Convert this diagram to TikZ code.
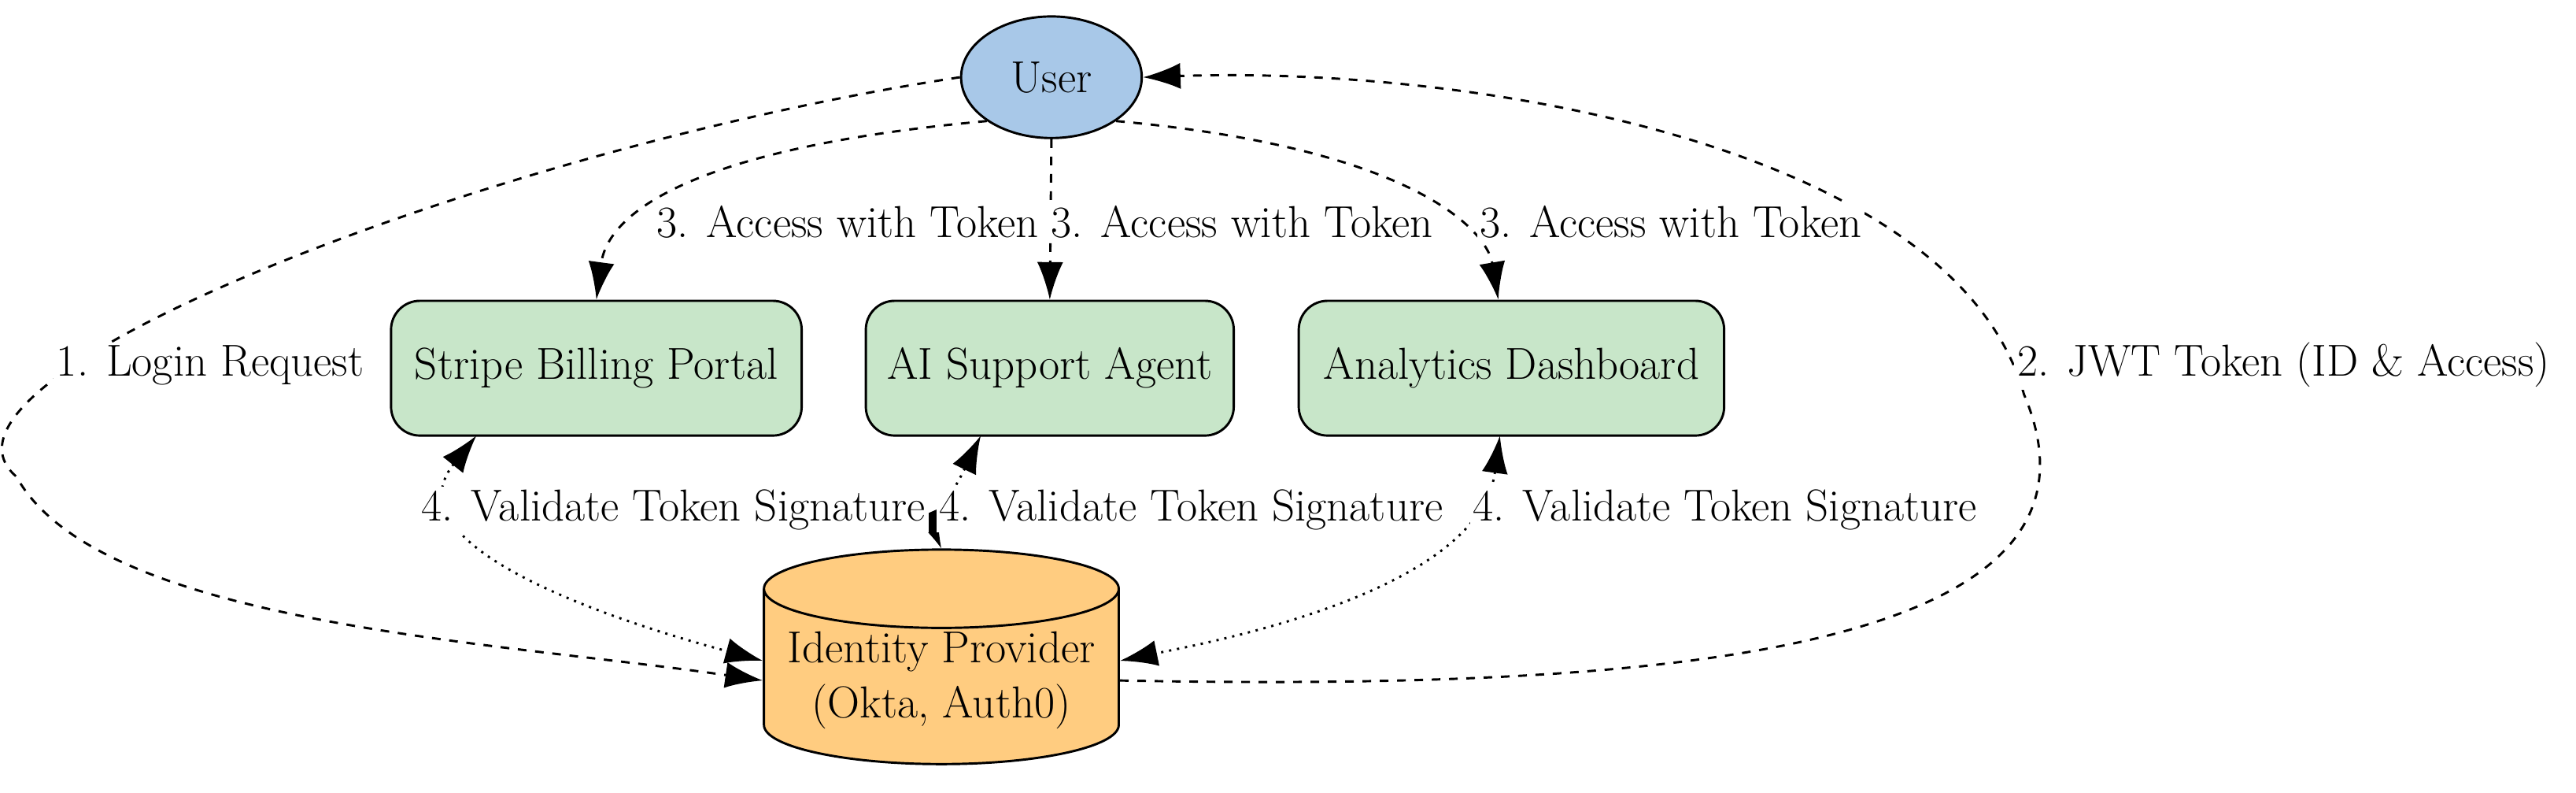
\documentclass[tikz,border=0pt]{standalone}
\usetikzlibrary{arrows.meta,shapes.geometric}

\tikzset{
  box/.style={draw, thick, rounded corners=10pt, fill=green!20!white, minimum width=#1, minimum height=1.64cm},
  login/.style={draw, thick, dashed, -{Latex[length=13pt,width=9pt]}},
  check/.style={draw, thick, dotted, {Latex[length=13pt,width=9pt]}-{Latex[length=13pt,width=9pt]}},
  lbl/.style={fill=white, inner sep=1pt}
}
\definecolor{userblue}{HTML}{A8C8E8}
\definecolor{boxgreen}{HTML}{C8E6C9}
\definecolor{idporange}{HTML}{FFCC80}

\begin{document}
\begin{tikzpicture}[x=0.02cm, y=-0.02cm, font=\fontsize{15.5}{19}\selectfont]
        \useasboundingbox (0,0) rectangle (1568,482);
        % nodes
        \node[draw, thick, ellipse, fill=userblue, minimum width=2.2cm, minimum height=1.48cm] (user) at (640,47) {User};
        \node[box=5cm, fill=boxgreen] (stripe) at (363,224) {Stripe Billing Portal};
        \node[box=4.48cm, fill=boxgreen] (agent) at (639,224) {AI Support Agent};
        \node[box=5.18cm, fill=boxgreen] (dash) at (920,224) {Analytics Dashboard};
        \node[draw, thick, cylinder, shape border rotate=90, aspect=0.25, fill=idporange,
              minimum width=4.32cm, minimum height=1.6cm, inner sep=1pt, align=center] (idp) at (573,414)
              {Identity Provider\\(Okta, Auth0)};
        % login and token
        \path[login] (user.west) .. controls (300,90) and (-60,230) .. (10,290)
              .. controls (60,380) and (300,390) .. (idp.west);
        \node[lbl] (l1) at (128,222) {1. Login Request};
        \path[login] (idp.east) .. controls (1000,420) and (1300,400) .. (1232,240)
              .. controls (1190,90) and (900,40) .. (user.east);
        \node[lbl] (l2) at (1390,222) {2. JWT Token (ID \& Access)};
        % access
        \path[login] (user.south west) .. controls (420,90) and (370,130) .. (stripe.north);
        \path[login] (user.south) -- (agent.north);
        \path[login] (user.south east) .. controls (860,90) and (905,140) .. (dash.north -| 912,0);
        \node[lbl] (a1) at (516,135) {3. Access with Token};
        \node[lbl] (a2) at (756,135) {3. Access with Token};
        \node[lbl] (a3) at (1017,135) {3. Access with Token};
        % validation
        \path[check] (290,265) .. controls (230,340) and (420,390) .. (idp.west |- 0,402);
        \path[check] (597,265) .. controls (580,300) and (567,320) .. (idp.north);
        \path[check] (913,265) .. controls (900,360) and (740,390) .. (idp.east |- 0,402);
        \node[lbl] (v1) at (410,310) {4. Validate Token Signature};
        \node[lbl] (v2) at (725,310) {4. Validate Token Signature};
        \node[lbl] (v3) at (1050,310) {4. Validate Token Signature};
\end{tikzpicture}
\end{document}
